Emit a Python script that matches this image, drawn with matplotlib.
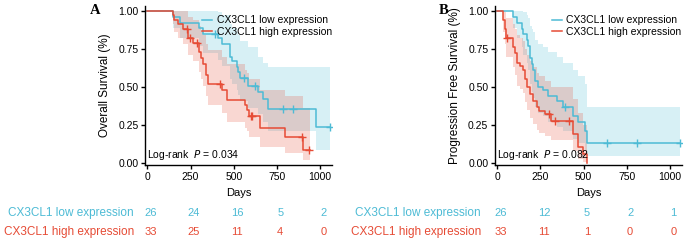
import numpy as np
import matplotlib
matplotlib.use("Agg")
import matplotlib.pyplot as plt

plt.rcParams["font.family"] = ["Liberation Sans", "DejaVu Sans"]

BLUE = "#4DBBD5"
RED = "#E64B35"

# panel A: overall survival
a_low_t = [0, 150, 190, 300, 320, 411, 430, 478, 488, 517, 526, 536, 584, 640, 671, 700, 977]
a_low_s = [1.0, .96, .92, .89, .85, .82, .78, .70, .67, .63, .60, .56, .51, .47, .42, .355, .24]
a_low_lo = [1.0, .89, .82, .77, .72, .68, .64, .55, .52, .48, .45, .41, .36, .32, .27, .21, .09]
a_low_hi = [1.0, 1.0, 1.0, 1.0, 1.0, .99, .97, .91, .89, .86, .84, .80, .76, .70, .66, .63, .63]
a_low_end = 1058
a_low_cens = [392, 560, 625, 784, 842, 1058]

a_high_t = [0, 146, 154, 179, 204, 237, 266, 301, 310, 324, 339, 353, 430, 459, 565, 575, 590, 655, 795, 903]
a_high_s = [1.0, .97, .94, .91, .88, .82, .79, .73, .69, .65, .58, .52, .48, .415, .38, .35, .31, .23, .17, .085]
a_high_lo = [1.0, .91, .86, .82, .78, .71, .67, .60, .55, .51, .44, .38, .33, .27, .23, .21, .17, .11, .065, .02]
a_high_hi = [1.0, 1.0, 1.0, 1.0, 1.0, .96, .94, .90, .87, .84, .78, .74, .70, .65, .61, .59, .55, .48, .44, .36]
a_high_end = 940
a_high_cens = [227, 245, 285, 420, 600, 608, 894, 938]

# panel B: progression free survival
b_low_t = [0, 89, 112, 141, 151, 170, 180, 189, 199, 209, 218, 238, 267, 296, 344, 383, 440, 469, 508, 518]
b_low_s = [1.0, .96, .92, .88, .85, .81, .77, .69, .65, .61, .54, .50, .48, .44, .41, .37, .31, .27, .21, .13]
b_low_lo = [1.0, .89, .82, .76, .71, .66, .61, .52, .47, .43, .37, .33, .31, .27, .24, .21, .16, .13, .09, .05]
b_low_hi = [1.0, 1.0, 1.0, 1.0, .99, .97, .95, .90, .88, .86, .81, .78, .76, .73, .70, .66, .61, .57, .52, .37]
b_low_end = 1060
b_low_cens = [390, 634, 810, 1060]

b_high_t = [0, 35, 45, 50, 93, 102, 112, 131, 147, 160, 170, 189, 209, 228, 243, 275, 310, 437, 469, 498, 520]
b_high_s = [1.0, .94, .88, .82, .76, .72, .66, .64, .61, .55, .50, .455, .41, .37, .345, .32, .28, .19, .11, .06, 0.0]
b_high_lo = [1.0, .86, .78, .70, .63, .58, .51, .49, .46, .40, .35, .30, .26, .22, .20, .18, .15, .08, .03, .01, 0.0]
b_high_hi = [1.0, 1.0, .99, .95, .91, .88, .84, .82, .80, .75, .71, .67, .63, .59, .57, .54, .50, .42, .33, .25, .25]
b_high_end = 522
b_high_cens = [58, 300, 334, 417]

risk_days = [0, 250, 500, 750, 1000]
a_low_risk = [26, 24, 16, 5, 2]
a_high_risk = [33, 25, 11, 4, 0]
b_low_risk = [26, 12, 5, 2, 1]
b_high_risk = [33, 11, 1, 0, 0]

group_labels = ["CX3CL1 low expression", "CX3CL1 high expression"]


def km(ax, t, s, lo, hi, end, cens, color, label):
    tt = list(t) + [end]
    ax.fill_between(tt, list(lo) + [lo[-1]], list(hi) + [hi[-1]], step="post",
                    color=color, alpha=0.22, lw=0)
    ax.step(tt, list(s) + [s[-1]], where="post", color=color, lw=1.1, label=label)
    idx = np.searchsorted(t, cens, side="right") - 1
    ax.plot(cens, np.array(s)[idx], "+", color=color, ms=6, mew=1.0)


W, H = 6.85, 2.41
fig = plt.figure(figsize=(W, H), dpi=100)
px = lambda x: x / 685
py = lambda y: 1 - y / 241

panels = [
    dict(left=145.4, letter="A", ylabel="Overall Survival (%)", p="0.034",
         low=(a_low_t, a_low_s, a_low_lo, a_low_hi, a_low_end, a_low_cens),
         high=(a_high_t, a_high_s, a_high_lo, a_high_hi, a_high_end, a_high_cens),
         risk=(a_low_risk, a_high_risk), lab_right=134),
    dict(left=495.2, letter="B", ylabel="Progression Free Survival (%)", p="0.082",
         low=(b_low_t, b_low_s, b_low_lo, b_low_hi, b_low_end, b_low_cens),
         high=(b_high_t, b_high_s, b_high_lo, b_high_hi, b_high_end, b_high_cens),
         risk=(b_low_risk, b_high_risk), lab_right=481),
]

for pan in panels:
    ax = fig.add_axes([px(pan["left"]), py(165), px(187), (165 - 6) / 241])
    km(ax, *pan["low"], BLUE, group_labels[0])
    km(ax, *pan["high"], RED, group_labels[1])
    ax.set_xlim(-12, 1072)
    ax.set_ylim(-0.011, 1.031)
    ax.set_xticks(risk_days)
    ax.set_yticks([0, .25, .5, .75, 1.0])
    ax.set_yticklabels([f"{v:.2f}" for v in [0, .25, .5, .75, 1.0]])
    for sp in ["top", "right"]:
        ax.spines[sp].set_visible(False)
    for sp in ["left", "bottom"]:
        ax.spines[sp].set_linewidth(1.0)
    ax.tick_params(labelsize=7.5, length=3, width=1.0, pad=2)
    ax.set_xlabel("Days", fontsize=8, labelpad=4)
    ax.set_ylabel(pan["ylabel"], fontsize=8.5, labelpad=5)
    ax.legend(loc="upper right", bbox_to_anchor=(1.03, 0.98), frameon=False, fontsize=7.5,
              handlelength=1.0, handletextpad=0.4, labelspacing=0.15, borderaxespad=0.2)
    ax.text(0.01, 0.06, "Log-rank  $\\it{P}$ = " + pan["p"], transform=ax.transAxes,
            fontsize=7.5, va="center", ha="left")
    fig.text(px(pan["left"] - 56), py(10), pan["letter"], fontsize=10.5, fontweight="bold",
             family="Liberation Serif", va="center", ha="left")
    # risk table
    trans = matplotlib.transforms.blended_transform_factory(ax.transData, fig.transFigure)
    for row, (vals, color, lab) in enumerate(zip(pan["risk"], [BLUE, RED], group_labels)):
        yy = py(213 + row * 19)
        fig.text(px(pan["lab_right"]), yy, lab, color=color, fontsize=8.5, ha="right", va="center")
        for d, v in zip(risk_days, vals):
            ax.text(d + 20, yy, str(v), color=color, fontsize=8, ha="center", va="center",
                    transform=trans)

fig.savefig("out.png", dpi=100)
